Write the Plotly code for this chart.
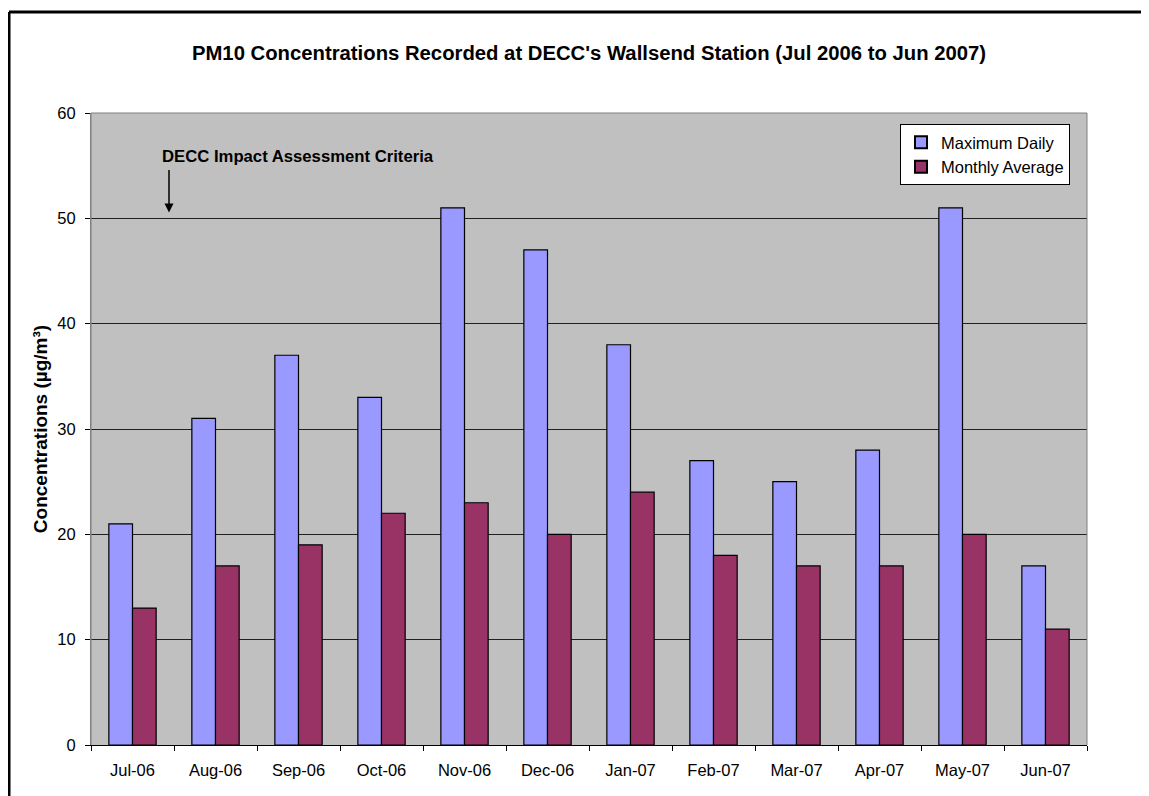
import plotly.graph_objects as go

months = ["Jul-06", "Aug-06", "Sep-06", "Oct-06", "Nov-06", "Dec-06",
          "Jan-07", "Feb-07", "Mar-07", "Apr-07", "May-07", "Jun-07"]
max_daily = [21, 31, 37, 33, 51, 47, 38, 27, 25, 28, 51, 17]
monthly_avg = [13, 17, 19, 22, 23, 20, 24, 18, 17, 17, 20, 11]
y_ticks = [0, 10, 20, 30, 40, 50, 60]

# page body has an 8px default margin; compensate so the figure lines up with the window
OFF = 8
W, H = 1149 - OFF, 796 - OFF
L, R, T, B = 91 - OFF, 1087 - OFF, 113 - OFF, 745.5 - OFF
pw, ph = R - L, B - T

def px_x(x):
    return (x - OFF - L) / pw

def px_y(y):
    return (B - (y - OFF)) / ph

FONT = "Arial, 'Liberation Sans', sans-serif"

fig = go.Figure()
fig.add_trace(go.Bar(x=months, y=max_daily, name="Maximum Daily",
                     marker=dict(color="#9999FF", line=dict(color="black", width=1.2))))
fig.add_trace(go.Bar(x=months, y=monthly_avg, name="Monthly Average",
                     marker=dict(color="#993366", line=dict(color="black", width=1.2))))

fig.update_layout(
    width=W, height=H,
    margin=dict(l=L, r=W - R, t=T, b=H - B, autoexpand=False),
    paper_bgcolor="white", plot_bgcolor="#C0C0C0",
    font=dict(family=FONT, size=16, color="black"),
    barmode="group", bargap=0.43, bargroupgap=0,
    title=dict(text="<b>PM10 Concentrations Recorded at DECC's Wallsend Station (Jul 2006 to Jun 2007)</b>",
               x=0.5, xref="paper", xanchor="center",
               y=1 - (53 - OFF) / H, yref="container", yanchor="middle",
               font=dict(size=20.3, family=FONT)),
    legend=dict(x=px_x(900), y=px_y(124), xanchor="left", yanchor="top",
                bgcolor="white", bordercolor="black", borderwidth=1,
                font=dict(size=16.5, family=FONT), tracegroupgap=0,
                itemwidth=30, itemsizing="constant"),
    showlegend=True,
)

fig.update_xaxes(
    type="category", showgrid=False, showline=True, linecolor="black", linewidth=1,
    ticks="outside", ticklen=5, tickcolor="black", tickson="boundaries",
    tickfont=dict(size=16.5), ticklabelstandoff=10,
)
fig.update_yaxes(
    range=[0, 60], tickvals=y_ticks, showgrid=True, gridcolor="#202020", gridwidth=1,
    zeroline=False, showline=True, linecolor="#808080", linewidth=1,
    ticks="outside", ticklen=5, tickcolor="black", tickfont=dict(size=16.5),
    ticklabelstandoff=6,
    title=dict(text="<b>Concentrations (µg/m³)</b>", font=dict(size=19), standoff=4),
)

shapes = [
    # plot-area border (top / right)
    dict(type="path", xref="paper", yref="paper",
         path="M 0,0 L 0,1 L 1,1 L 1,0", line=dict(color="#808080", width=1), layer="above"),
    # outer chart border
    dict(type="line", xref="paper", yref="paper",
         x0=px_x(9), x1=px_x(1160), y0=px_y(12), y1=px_y(12),
         line=dict(color="black", width=3)),
    dict(type="line", xref="paper", yref="paper",
         x0=px_x(9), x1=px_x(9), y0=px_y(12), y1=px_y(810),
         line=dict(color="black", width=3)),
]
fig.update_layout(shapes=shapes)

fig.add_annotation(text="<b>DECC Impact Assessment Criteria</b>",
                   xref="paper", yref="paper", x=px_x(160), y=px_y(157),
                   xanchor="left", yanchor="middle", showarrow=False,
                   font=dict(size=16.7, family=FONT))
fig.add_annotation(text="", xref="paper", yref="paper",
                   x=px_x(169), y=px_y(212.5), ax=0, ay=-44,
                   showarrow=True, arrowhead=2, arrowsize=1.2, arrowwidth=1.5,
                   arrowcolor="black")

fig.write_html("out.html")
